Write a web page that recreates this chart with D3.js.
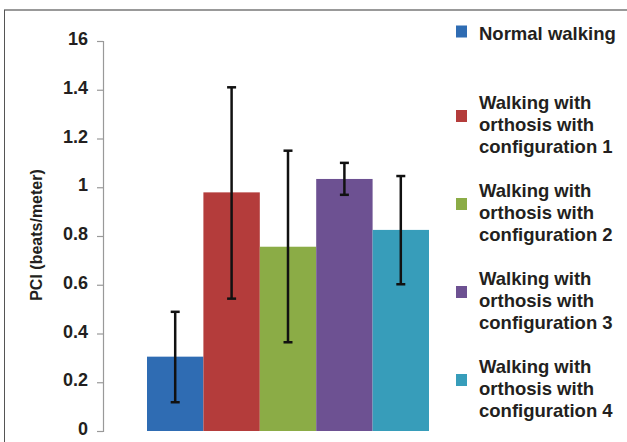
<!DOCTYPE html>
<html>
<head>
<meta charset="utf-8">
<script src="https://cdn.jsdelivr.net/npm/d3@7"></script>
<style>
  body { margin: 0; background: #fff; }
  svg { display: block; font-family: "Liberation Sans", Arial, sans-serif; }
</style>
</head>
<body>
<div id="chart"></div>
<script>
// chart data
const groups = [
    "Normal walking",
    "Walking with orthosis with configuration 1",
    "Walking with orthosis with configuration 2",
    "Walking with orthosis with configuration 3",
    "Walking with orthosis with configuration 4"
];
const legendLines = [
    ["Normal walking"],
    ["Walking with", "orthosis with", "configuration 1"],
    ["Walking with", "orthosis with", "configuration 2"],
    ["Walking with", "orthosis with", "configuration 3"],
    ["Walking with", "orthosis with", "configuration 4"]
];
const meanPCI = [0.305, 0.979, 0.756, 1.034, 0.825];
const errLow = [0.118, 0.543, 0.364, 0.969, 0.602];
const errHigh = [0.489, 1.41, 1.15, 1.10, 1.046];
const colors = ["#2f6cb3", "#b43c3b", "#8bac46", "#6d5192", "#379dba"];
const tickValues = [0, 0.2, 0.4, 0.6, 0.8, 1, 1.2, 1.4, 1.6];
const tickLabels = ["0", "0.2", "0.4", "0.6", "0.8", "1", "1.2", "1.4", "16"];

const width = 627;
const height = 442;
const textColor = "#231f20";

const svg = d3.select("#chart")
    .append("svg")
    .attr("width", width)
    .attr("height", height);

// outer frame (top and left edges only)
svg.append("line")
    .attr("x1", 4).attr("x2", width)
    .attr("y1", 10).attr("y2", 10)
    .attr("stroke", "#999").attr("stroke-width", 2);
svg.append("line")
    .attr("x1", 4.5).attr("x2", 4.5)
    .attr("y1", 10).attr("y2", height)
    .attr("stroke", "#555").attr("stroke-width", 1);

const x = d3.scaleBand()
    .domain(groups)
    .range([147, 429])
    .paddingInner(0)
    .paddingOuter(0);

const y = d3.scaleLinear()
    .domain([0, 1.6])
    .range([431, 41]);

// y axis
const yAxis = svg.append("g")
    .attr("transform", "translate(103,0)")
    .call(d3.axisLeft(y)
        .tickValues(tickValues)
        .tickFormat((d, i) => tickLabels[i])
        .tickSize(6)
        .tickPadding(9));

yAxis.select(".domain").attr("stroke", "#999").attr("stroke-width", 1.2);
yAxis.selectAll(".tick line").attr("stroke", "#999").attr("stroke-width", 1.2);
yAxis.selectAll(".tick text")
    .attr("dy", "0.2em")
    .attr("fill", textColor)
    .style("font-size", "18px")
    .style("font-weight", "bold")
    .style("font-family", "'Liberation Sans', Arial, sans-serif");

svg.append("text")
    .attr("transform", "translate(42,235) rotate(-90)")
    .attr("text-anchor", "middle")
    .attr("fill", textColor)
    .style("font-size", "16px")
    .style("font-weight", "bold")
    .text("PCI (beats/meter)");

const rows = groups.map((g, i) => ({
    group: g,
    mean: meanPCI[i],
    lo: errLow[i],
    hi: errHigh[i],
    color: colors[i]
}));

// bars
svg.selectAll(".bar")
    .data(rows)
    .enter()
    .append("rect")
    .attr("class", "bar")
    .attr("x", (d) => x(d.group))
    .attr("y", (d) => y(d.mean))
    .attr("width", x.bandwidth())
    .attr("height", (d) => y(0) - y(d.mean))
    .attr("fill", (d) => d.color);

// error bars
const capHalf = 4.5;
const err = svg.selectAll(".err")
    .data(rows)
    .enter()
    .append("g")
    .attr("class", "err")
    .attr("stroke", "#111")
    .attr("stroke-width", 2.5);

err.append("line")
    .attr("x1", (d) => x(d.group) + x.bandwidth() / 2)
    .attr("x2", (d) => x(d.group) + x.bandwidth() / 2)
    .attr("y1", (d) => y(d.hi))
    .attr("y2", (d) => y(d.lo));
err.append("line")
    .attr("x1", (d) => x(d.group) + x.bandwidth() / 2 - capHalf)
    .attr("x2", (d) => x(d.group) + x.bandwidth() / 2 + capHalf)
    .attr("y1", (d) => y(d.hi))
    .attr("y2", (d) => y(d.hi));
err.append("line")
    .attr("x1", (d) => x(d.group) + x.bandwidth() / 2 - capHalf)
    .attr("x2", (d) => x(d.group) + x.bandwidth() / 2 + capHalf)
    .attr("y1", (d) => y(d.lo))
    .attr("y2", (d) => y(d.lo));

// legend
const firstBaseline = [40, 109, 197, 285, 373];
const lineGap = 21.8;

const legend = svg.selectAll(".legend")
    .data(rows)
    .enter()
    .append("g")
    .attr("class", "legend");

legend.append("rect")
    .attr("x", 456)
    .attr("y", (d, i) => legendLines[i].length === 1 ? firstBaseline[i] - 14.5 : firstBaseline[i] + 1)
    .attr("width", 11)
    .attr("height", 12)
    .attr("fill", (d) => d.color);

legend.append("text")
    .attr("x", 479)
    .attr("y", (d, i) => firstBaseline[i])
    .attr("fill", textColor)
    .style("font-size", "18.5px")
    .style("font-weight", "bold")
    .each(function (d, i) {
        d3.select(this).selectAll("tspan")
            .data(legendLines[i])
            .enter()
            .append("tspan")
            .attr("x", 479)
            .attr("dy", (t, j) => (j === 0 ? 0 : lineGap))
            .text((t) => t);
    });
</script>
</body>
</html>
